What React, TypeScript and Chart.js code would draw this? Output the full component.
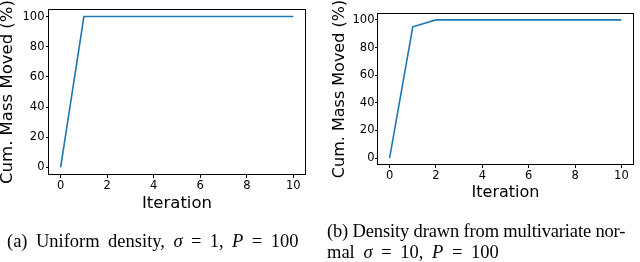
import React, { useEffect, useRef } from 'react';
import { Chart, registerables } from 'chart.js';

Chart.register(...registerables);

const iterations = [0, 1, 2, 3, 4, 5, 6, 7, 8, 9, 10];
const uniformMoved = [0, 100, 100, 100, 100, 100, 100, 100, 100, 100, 100];
const normalMoved = [0, 95, 100, 100, 100, 100, 100, 100, 100, 100, 100];
const xTickValues = [0, 2, 4, 6, 8, 10];
const yTickValues = [0, 20, 40, 60, 80, 100];
const xTitle = 'Iteration';
const yTitle = 'Cum. Mass Moved (%)';

const FONT = '"DejaVu Sans", sans-serif';

const yTitlePlugin = {
  id: 'yTitleDraw',
  afterDraw(chart: any, _args: any, opts: any) {
    const { ctx, chartArea } = chart;
    ctx.save();
    ctx.font = `${opts.size}px ${FONT}`;
    ctx.fillStyle = '#000';
    ctx.textAlign = 'center';
    ctx.textBaseline = 'middle';
    ctx.translate(opts.x, (chartArea.top + chartArea.bottom) / 2);
    ctx.rotate(-Math.PI / 2);
    ctx.fillText(opts.text, 0, 0);
    ctx.restore();
  },
};

const framePlugin = {
  id: 'frameDraw',
  afterDraw(chart: any) {
    const { ctx, chartArea } = chart;
    ctx.save();
    ctx.strokeStyle = '#000';
    ctx.lineWidth = 1;
    ctx.strokeRect(
      Math.round(chartArea.left) - 0.5,
      Math.round(chartArea.top) + 0.5,
      Math.round(chartArea.right) - Math.round(chartArea.left) + 1,
      Math.round(chartArea.bottom) - Math.round(chartArea.top) - 1
    );
    ctx.restore();
  },
};

type Layout = {
  top: number;
  right: number;
  bottom: number;
  yWidth: number;
  xHeight: number;
  tickSize: number;
  titleSize: number;
  yTitleX: number;
  yPad: number;
};

function makeConfig(values: number[], L: Layout): any {
  return {
    type: 'line',
    data: {
      datasets: [
        {
          data: iterations.map((x, i) => ({ x, y: values[i] })),
          borderColor: '#1f77b4',
          borderWidth: 1.6,
          pointRadius: 0,
          tension: 0,
          fill: false,
        },
      ],
    },
    plugins: [yTitlePlugin, framePlugin],
    options: {
      responsive: false,
      animation: false,
      events: [],
      layout: { padding: { left: 0, top: L.top, right: L.right, bottom: L.bottom } },
      plugins: {
        legend: { display: false },
        tooltip: { enabled: false },
        yTitleDraw: { text: yTitle, size: L.titleSize, x: L.yTitleX },
      },
      scales: {
        x: {
          type: 'linear',
          min: -0.5,
          max: 10.5,
          afterBuildTicks: (s: any) => {
            s.ticks = xTickValues.map((v) => ({ value: v }));
          },
          afterFit: (s: any) => {
            s.height = L.xHeight;
          },
          border: { display: false },
          grid: {
            display: true,
            drawOnChartArea: false,
            drawTicks: true,
            tickLength: 3,
            tickColor: '#000',
            tickWidth: 1,
          },
          ticks: {
            padding: 1,
            color: '#000',
            maxRotation: 0,
            font: { family: FONT, size: L.tickSize },
          },
          title: {
            display: true,
            text: xTitle,
            color: '#000',
            padding: 0,
            font: { family: FONT, size: L.titleSize, lineHeight: 1 },
          },
        },
        y: {
          type: 'linear',
          min: -5,
          max: 105,
          afterBuildTicks: (s: any) => {
            s.ticks = yTickValues.map((v) => ({ value: v }));
          },
          afterFit: (s: any) => {
            s.width = L.yWidth;
          },
          border: { display: false },
          grid: {
            display: true,
            drawOnChartArea: false,
            drawTicks: true,
            tickLength: 3,
            tickColor: '#000',
            tickWidth: 1,
          },
          ticks: {
            padding: L.yPad,
            color: '#000',
            font: { family: FONT, size: L.tickSize },
          },
        },
      },
    },
  };
}

function Plot({ values, layout, left }: { values: number[]; layout: Layout; left: number }) {
  const ref = useRef<HTMLCanvasElement | null>(null);
  useEffect(() => {
    if (!ref.current) return;
    const chart = new Chart(ref.current, makeConfig(values, layout));
    return () => chart.destroy();
  }, []);
  return (
    <div style={{ position: 'absolute', left, top: 0, width: 320, height: 262 }}>
      <canvas ref={ref} width={320} height={262} style={{ width: 320, height: 262, display: 'block' }} />
    </div>
  );
}

const leftLayout: Layout = {
  top: 9,
  right: 15,
  bottom: 49.75,
  yWidth: 49,
  xHeight: 262 - 49.75 - 175,
  tickSize: 11.5,
  titleSize: 16.5,
  yTitleX: 8,
  yPad: 1.5,
};

const rightLayout: Layout = {
  top: 13,
  right: 7,
  bottom: 61.5,
  yWidth: 58,
  xHeight: 262 - 61.5 - 165,
  tickSize: 11.5,
  titleSize: 16,
  yTitleX: 19.5,
  yPad: 0.5,
};

const CAP_SIZE = 18.5;

const capFont: React.CSSProperties = {
  position: 'absolute',
  fontFamily: '"Liberation Serif", "Times New Roman", serif',
  fontSize: CAP_SIZE,
  lineHeight: `${CAP_SIZE}px`,
  color: '#000',
  whiteSpace: 'nowrap',
};

export default function App() {
  return (
    <div style={{ position: 'absolute', left: 0, top: 0, width: 640, height: 262, background: '#fff', overflow: 'hidden' }}>
      <Plot values={uniformMoved} layout={leftLayout} left={0} />
      <Plot values={normalMoved} layout={rightLayout} left={320} />
      <div style={{ ...capFont, left: 7, top: 232.2, wordSpacing: 3.8 }}>
        (a) Uniform density, <i>σ</i> = 1, <i>P</i> = 100
      </div>
      <div style={{ ...capFont, left: 327, top: 222, letterSpacing: -0.15 }}>
        (b) Density drawn from multivariate nor-
      </div>
      <div style={{ ...capFont, left: 327, top: 243.2, wordSpacing: 4 }}>
        mal <i>σ</i> = 10, <i>P</i> = 100
      </div>
    </div>
  );
}
